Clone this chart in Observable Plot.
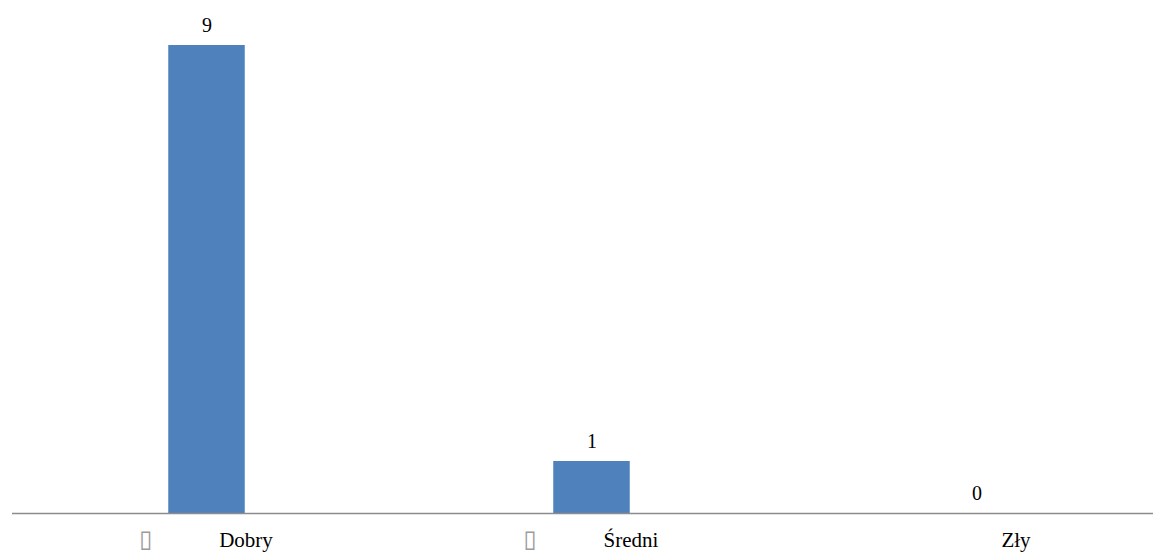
<!DOCTYPE html>
<html>
<head>
<meta charset="utf-8">
<script src="https://cdn.jsdelivr.net/npm/d3@7"></script>
<script src="https://cdn.jsdelivr.net/npm/@observablehq/plot@0.6"></script>
<style>
  html, body { margin: 0; padding: 0; background: #fff; }
  #chart svg { display: block; }
  #chart svg .serif-text, #chart svg .serif-text text {
    font-family: "Liberation Serif", "Times New Roman", Times, serif !important;
  }
  #chart svg .bullet-text, #chart svg .bullet-text text {
    font-family: "DejaVu Sans", sans-serif !important;
  }
</style>
</head>
<body>
<div id="chart"></div>
<script>
// Ratings and how many answers fell into each
const categories = ["Dobry", "Średni", "Zły"];
const values = [9, 1, 0];
// Bullet glyph printed in front of each category label
const markers = ["\u25AF", "\u25AF", ""];

const data = categories.map((c, i) => ({category: c, value: values[i], marker: markers[i]}));

const labelSize = 21;
const bulletGap = 78; // distance from bullet start to label text start

// measure label widths so that bullet + text is centred under each bar
const ctx = document.createElement("canvas").getContext("2d");
ctx.font = `${labelSize}px "Liberation Serif", serif`;
const textWidth = (s) => ctx.measureText(s).width;

const labelMarks = data.flatMap((d) => {
  const w = textWidth(d.category);
  const start = -(bulletGap + w) / 2;
  return [
    Plot.text([d], {
      x: "category", frameAnchor: "bottom", text: "marker",
      textAnchor: "start", lineAnchor: "bottom", dx: start - 2, dy: 33,
      fontSize: 24, fill: "#9a9a9a", className: "bullet-text"
    }),
    Plot.text([d], {
      x: "category", frameAnchor: "bottom", text: "category",
      textAnchor: "start", lineAnchor: "bottom", dx: start + bulletGap, dy: 33,
      fontSize: labelSize, fill: "#000", className: "serif-text"
    })
  ];
});

const chart = Plot.plot({
  width: 1153,
  height: 552,
  marginLeft: 12,
  marginRight: 0,
  marginTop: 45,
  marginBottom: 39,
  style: {background: "#fff"},
  x: {type: "band", domain: categories, range: [12.75, 1169.25], padding: 0, axis: null},
  y: {domain: [0, 9], axis: null},
  marks: [
    Plot.barY(data, {x: "category", y: "value", fill: "#4F81BD", insetLeft: 154.25, insetRight: 154.25}),
    Plot.ruleY([0], {stroke: "#8c8c8c", strokeWidth: 1.5}),
    Plot.text(data, {
      x: "category", y: "value", text: (d) => String(d.value),
      lineAnchor: "bottom", dy: -14, fontSize: 20, fill: "#000", className: "serif-text"
    }),
    ...labelMarks
  ]
});

document.getElementById("chart").appendChild(chart);
</script>
</body>
</html>
